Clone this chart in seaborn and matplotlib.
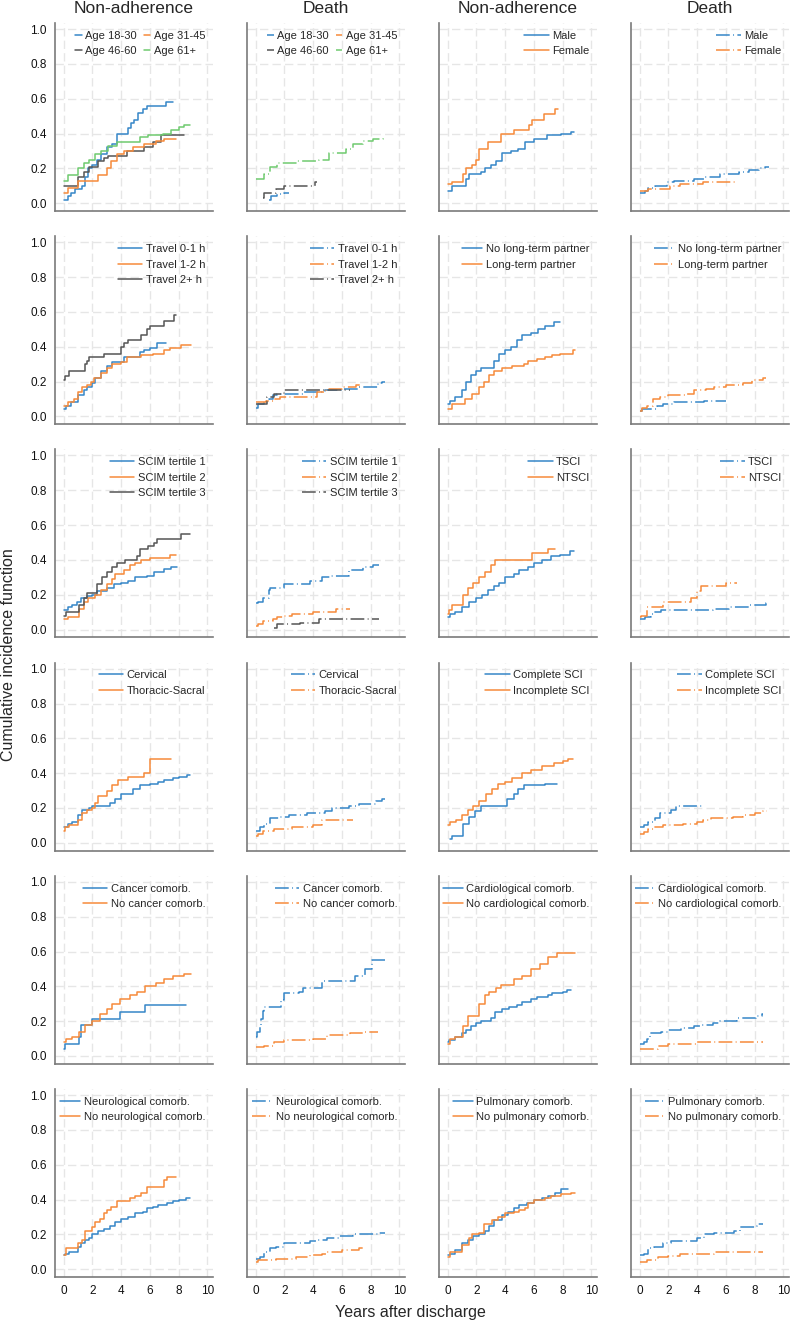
import matplotlib
matplotlib.use("Agg")
import matplotlib.pyplot as plt
import pandas as pd
import seaborn as sns

sns.set_style("white")
plt.rcParams["font.family"] = ["Liberation Sans", "DejaVu Sans"]

BLUE = "#3586c8"
ORANGE = "#f68a3a"
GRAY = "#555555"
GREEN = "#6fca6f"

# Cumulative incidence step functions: (years after discharge, CIF)
# Row 1: age / sex
na_age_1830 = [(0, .02), (.3, .04), (.5, .06), (.8, .08), (1.3, .10), (1.5, .15), (1.7, .20), (2.0, .22),
               (2.3, .25), (2.6, .28), (3.0, .32), (3.4, .34), (3.7, .40), (4.5, .43), (4.7, .46), (4.9, .48),
               (5.2, .52), (5.5, .54), (5.8, .56), (7.1, .58), (7.6, .58)]
na_age_3145 = [(0, .06), (.3, .09), (1.0, .13), (2.4, .16), (3.0, .20), (3.3, .24), (3.7, .28), (4.2, .30),
               (4.8, .32), (5.6, .34), (6.4, .36), (7.0, .37), (7.8, .37)]
na_age_4660 = [(0, .10), (1.0, .15), (1.4, .18), (1.8, .21), (2.4, .24), (2.8, .26), (3.1, .27), (4.4, .30),
               (5.6, .32), (6.2, .35), (6.8, .39), (8.4, .39)]
na_age_61 = [(0, .13), (.3, .16), (1.0, .20), (1.4, .23), (1.8, .25), (2.2, .28), (2.6, .30), (3.1, .33),
             (3.7, .35), (5.3, .38), (5.9, .39), (6.9, .40), (7.5, .42), (8.0, .44), (8.4, .45), (8.8, .45)]
d_age_1830 = [(.9, .02), (1.1, .04), (1.5, .05), (2.0, .06), (2.3, .06)]
d_age_4660 = [(.5, .03), (.6, .06), (1.4, .08), (2.0, .10), (4.1, .12), (4.3, .12)]
d_age_61 = [(0, .14), (.6, .17), (1.0, .21), (1.5, .23), (2.9, .24), (4.4, .25), (5.1, .29), (6.3, .31),
            (6.8, .34), (7.5, .36), (8.2, .37), (8.9, .38), (9.0, .38)]
na_sex_m = [(0, .07), (.3, .10), (1.3, .14), (1.5, .17), (2.3, .18), (2.6, .20), (3.0, .22), (3.4, .24),
            (3.8, .29), (4.4, .30), (4.9, .31), (5.4, .35), (6.0, .37), (6.9, .39), (7.9, .40), (8.6, .41),
            (8.8, .41)]
na_sex_f = [(0, .11), (.3, .12), (1.1, .17), (1.3, .20), (1.7, .22), (2.0, .25), (2.2, .31), (2.8, .35),
            (3.7, .40), (4.6, .42), (5.7, .45), (5.9, .48), (6.7, .51), (7.5, .54), (7.7, .54)]
d_sex_m = [(0, .06), (.4, .07), (.6, .09), (1.1, .10), (1.9, .12), (2.4, .13), (3.8, .14), (4.5, .15),
           (5.6, .17), (6.9, .18), (7.6, .19), (8.3, .20), (8.7, .21), (9.0, .21)]
d_sex_f = [(0, .07), (.6, .08), (2.1, .10), (2.8, .11), (4.4, .12), (6.8, .12)]

# Row 2: travel time / partner
na_trav_01 = [(0, .04), (.2, .06), (.5, .08), (1.0, .12), (1.4, .15), (1.6, .17), (2.0, .19), (2.2, .22),
              (2.6, .26), (3.0, .29), (3.4, .31), (4.2, .34), (5.3, .37), (5.6, .38), (6.0, .39), (6.5, .42),
              (7.1, .42)]
na_trav_12 = [(0, .06), (.3, .08), (.7, .10), (1.0, .14), (1.3, .17), (1.6, .18), (1.9, .20), (2.1, .22),
              (2.6, .25), (3.0, .28), (3.4, .30), (4.0, .31), (4.4, .34), (5.4, .35), (6.2, .36), (7.0, .38),
              (7.4, .39), (8.2, .41), (8.9, .41)]
na_trav_2p = [(0, .21), (.1, .23), (.4, .26), (1.5, .30), (1.6, .32), (1.8, .34), (2.8, .36), (4.0, .40),
              (4.2, .42), (4.5, .44), (5.4, .47), (5.8, .50), (6.0, .52), (7.0, .55), (7.7, .58), (7.8, .58)]
d_trav_01 = [(0, .05), (.2, .07), (.6, .09), (.9, .10), (1.2, .12), (1.5, .13), (3.3, .14), (4.8, .15),
             (6.0, .16), (7.1, .17), (8.5, .19), (8.8, .20), (9.0, .20)]
d_trav_12 = [(0, .08), (.7, .09), (1.3, .10), (1.7, .11), (4.3, .14), (4.9, .16), (6.0, .17), (7.0, .18),
             (7.5, .18)]
d_trav_2p = [(0, .07), (.8, .11), (1.3, .13), (2.0, .15), (6.6, .15)]
na_part_no = [(0, .07), (.2, .09), (.5, .11), (1.0, .15), (1.3, .20), (1.6, .24), (2.0, .26), (2.3, .28),
              (3.2, .32), (3.6, .36), (4.0, .38), (4.4, .40), (4.8, .44), (5.2, .47), (5.8, .48), (6.3, .50),
              (6.8, .52), (7.4, .54), (7.8, .54)]
na_part_yes = [(0, .04), (.3, .07), (1.2, .10), (1.7, .13), (2.2, .17), (2.5, .20), (2.9, .24), (3.2, .26),
               (3.8, .28), (4.5, .29), (5.3, .30), (5.6, .32), (6.2, .33), (6.8, .34), (7.3, .35), (7.8, .36),
               (8.7, .38), (8.9, .38)]
d_part_no = [(0, .03), (.2, .04), (1.2, .06), (1.6, .07), (2.4, .08), (4.5, .09), (6.0, .09)]
d_part_yes = [(0, .03), (.2, .05), (.5, .06), (.9, .10), (1.4, .11), (2.0, .12), (3.3, .13), (3.8, .15),
              (4.6, .16), (5.2, .17), (6.0, .18), (7.2, .19), (7.8, .21), (8.6, .22), (8.8, .22)]

# Row 3: SCIM / aetiology
na_scim_1 = [(0, .11), (.3, .13), (.6, .14), (.9, .16), (1.2, .18), (1.6, .19), (2.0, .20), (2.3, .22),
             (3.0, .24), (3.5, .26), (4.0, .27), (4.5, .28), (5.0, .30), (5.8, .31), (6.3, .33), (7.0, .35),
             (7.5, .36), (7.9, .36)]
na_scim_2 = [(0, .06), (.3, .07), (1.1, .12), (1.4, .16), (1.7, .18), (2.2, .20), (2.6, .23), (3.0, .26),
             (3.4, .29), (3.6, .32), (4.2, .34), (4.6, .37), (5.0, .38), (5.4, .40), (6.0, .41), (7.4, .43),
             (7.8, .43)]
na_scim_3 = [(0, .08), (.2, .10), (1.1, .14), (1.4, .18), (1.6, .21), (2.3, .26), (2.7, .30), (3.0, .33),
             (3.4, .36), (3.7, .38), (4.3, .40), (5.1, .42), (5.3, .46), (5.9, .48), (6.3, .50), (6.5, .52),
             (8.2, .55), (8.8, .55)]
d_scim_1 = [(0, .15), (.2, .16), (.5, .18), (.9, .23), (1.0, .24), (2.0, .26), (3.8, .28), (4.6, .30),
            (5.2, .31), (6.5, .34), (7.5, .36), (8.2, .37), (8.6, .37)]
d_scim_2 = [(0, .02), (.2, .03), (.5, .05), (1.2, .06), (1.5, .07), (1.9, .08), (2.5, .09), (4.0, .10),
            (5.6, .12), (6.6, .12)]
d_scim_3 = [(1.3, .01), (1.5, .03), (3.1, .04), (4.4, .06), (8.6, .06)]
na_tsci = [(0, .07), (.2, .09), (.5, .10), (1.0, .13), (1.5, .16), (2.0, .18), (2.4, .20), (2.8, .23),
           (3.2, .25), (3.6, .27), (4.0, .30), (4.6, .32), (5.0, .34), (5.6, .36), (6.0, .38), (6.6, .40),
           (7.2, .42), (7.8, .43), (8.5, .45), (8.8, .45)]
na_ntsci = [(0, .09), (.1, .11), (.3, .14), (1.1, .20), (1.4, .24), (1.8, .27), (2.2, .30), (2.6, .33),
            (3.0, .37), (3.3, .40), (5.9, .44), (7.0, .46), (7.5, .46)]
d_tsci = [(0, .06), (.4, .07), (.8, .09), (1.0, .10), (1.5, .11), (5.1, .12), (6.2, .13), (7.6, .14),
          (8.8, .15), (9.0, .15)]
d_ntsci = [(0, .07), (.1, .08), (.5, .13), (1.6, .16), (3.6, .18), (4.0, .22), (4.3, .25), (6.0, .27),
           (6.8, .27)]

# Row 4: lesion level / completeness
na_cerv = [(0, .09), (.3, .11), (.6, .12), (1.0, .16), (1.3, .19), (1.8, .20), (2.0, .21), (3.2, .23),
           (3.6, .25), (4.0, .28), (4.8, .31), (5.3, .33), (6.0, .34), (6.6, .35), (7.0, .36), (7.6, .37),
           (8.0, .38), (8.6, .39), (8.8, .39)]
na_thor = [(0, .07), (.1, .09), (.4, .10), (1.0, .13), (1.3, .17), (1.6, .19), (2.0, .20), (2.2, .23),
           (2.4, .27), (3.0, .30), (3.4, .33), (3.8, .36), (4.5, .38), (5.6, .40), (6.0, .48), (7.5, .48)]
d_cerv = [(0, .07), (.3, .09), (.6, .11), (1.0, .14), (1.6, .15), (2.3, .16), (3.6, .17), (4.8, .18),
          (5.3, .20), (6.5, .21), (7.2, .22), (8.4, .24), (8.8, .25), (9.0, .25)]
d_thor = [(0, .04), (.2, .05), (.5, .07), (1.3, .08), (2.5, .09), (4.0, .10), (4.6, .13), (6.8, .13)]
na_compl = [(.2, .02), (.3, .04), (1.1, .11), (1.5, .15), (1.9, .18), (2.3, .21), (4.1, .25), (4.6, .28),
            (4.9, .31), (5.3, .33), (6.8, .34), (7.6, .34)]
na_incompl = [(0, .10), (.2, .12), (.6, .13), (1.0, .16), (1.4, .19), (1.8, .21), (2.2, .24), (2.7, .28),
              (3.1, .31), (3.5, .34), (4.0, .35), (4.5, .37), (5.2, .40), (5.8, .42), (6.6, .44), (7.4, .46),
              (8.0, .47), (8.4, .48), (8.7, .48)]
d_compl = [(0, .09), (.3, .10), (.6, .12), (1.1, .14), (1.4, .17), (2.2, .19), (2.5, .21), (4.4, .21)]
d_incompl = [(0, .05), (.3, .06), (.6, .08), (1.0, .09), (1.6, .10), (3.0, .11), (4.0, .12), (4.4, .13),
             (5.0, .14), (6.5, .15), (7.2, .16), (8.0, .17), (8.6, .18), (8.9, .18)]

# Row 5: cancer / cardiological comorbidity
na_canc = [(0, .04), (.1, .07), (1.1, .11), (1.2, .18), (2.0, .21), (3.9, .25), (5.7, .29), (8.5, .29)]
na_nocanc = [(0, .08), (.2, .10), (.6, .11), (1.1, .14), (1.5, .18), (2.0, .20), (2.5, .24), (3.0, .27),
             (3.4, .30), (3.9, .33), (4.6, .35), (5.1, .37), (5.7, .40), (6.4, .42), (7.0, .44), (7.6, .46),
             (8.4, .47), (8.9, .47)]
d_canc = [(0, .11), (.1, .14), (.3, .18), (.4, .21), (.5, .26), (.6, .28), (1.8, .32), (2.0, .36), (3.0, .37),
          (3.3, .39), (4.6, .43), (6.9, .46), (7.6, .50), (8.1, .55), (9.0, .55)]
d_nocanc = [(0, .05), (.6, .06), (1.3, .08), (2.0, .09), (4.0, .10), (5.0, .12), (6.6, .13), (7.6, .14),
            (8.5, .14)]
na_card = [(0, .08), (.1, .09), (.5, .11), (1.0, .13), (1.3, .15), (1.6, .17), (2.0, .19), (2.3, .20),
           (3.0, .22), (3.3, .25), (3.8, .27), (4.3, .28), (4.8, .29), (5.2, .31), (5.8, .33), (6.2, .34),
           (7.0, .35), (7.3, .36), (8.0, .37), (8.3, .38), (8.6, .38)]
na_nocard = [(0, .07), (.2, .10), (.5, .11), (1.1, .17), (1.4, .23), (2.2, .30), (2.6, .35), (2.9, .37),
             (3.4, .39), (3.7, .41), (4.6, .44), (5.2, .46), (5.8, .50), (6.4, .53), (7.0, .57), (7.6, .59),
             (8.9, .59)]
d_card = [(0, .07), (.3, .08), (.5, .10), (.7, .13), (1.5, .14), (2.0, .15), (2.9, .16), (3.8, .17),
          (4.3, .18), (5.1, .19), (5.6, .20), (6.8, .22), (8.1, .23), (8.5, .24), (8.6, .24)]
d_nocard = [(0, .04), (1.3, .06), (2.0, .07), (4.0, .08), (8.6, .08)]

# Row 6: neurological / pulmonary comorbidity
na_neur = [(0, .08), (.1, .09), (.4, .10), (1.0, .13), (1.2, .15), (1.5, .17), (1.8, .18), (2.0, .20),
           (2.4, .22), (2.8, .23), (3.2, .25), (3.6, .27), (4.0, .29), (4.5, .30), (5.0, .32), (5.5, .33),
           (5.8, .35), (6.2, .36), (6.6, .37), (7.2, .38), (7.6, .39), (8.0, .40), (8.5, .41), (8.8, .41)]
na_noneur = [(0, .08), (.2, .12), (1.0, .15), (1.3, .17), (1.5, .22), (2.0, .24), (2.2, .27), (2.5, .29),
             (2.8, .32), (3.0, .34), (3.3, .36), (3.7, .39), (4.6, .41), (5.0, .42), (5.4, .44), (5.8, .47),
             (7.0, .51), (7.2, .53), (7.8, .53)]
d_neur = [(0, .06), (.3, .07), (.6, .10), (1.0, .12), (1.4, .13), (2.0, .15), (3.8, .16), (4.3, .17),
          (5.0, .18), (5.8, .19), (6.8, .20), (8.5, .21), (9.0, .21)]
d_noneur = [(0, .04), (.2, .05), (1.4, .06), (2.8, .07), (3.8, .08), (4.6, .09), (4.9, .10), (6.0, .11),
            (7.2, .12), (7.5, .12)]
na_pulm = [(0, .08), (.2, .09), (.5, .11), (1.0, .15), (1.4, .17), (1.8, .19), (2.2, .20), (2.6, .22),
           (2.9, .25), (3.2, .28), (3.8, .31), (4.2, .33), (4.6, .35), (5.0, .37), (5.5, .38), (6.0, .40),
           (6.6, .41), (7.0, .42), (7.5, .44), (7.9, .46), (8.4, .46)]
na_nopulm = [(0, .07), (.2, .10), (1.0, .14), (1.5, .18), (1.7, .20), (2.2, .21), (2.5, .26), (3.1, .28),
             (3.5, .30), (4.0, .32), (4.6, .33), (5.0, .34), (5.4, .35), (5.6, .38), (6.0, .40), (6.8, .41),
             (7.2, .42), (7.9, .43), (8.6, .44), (8.9, .44)]
d_pulm = [(0, .08), (.3, .09), (.6, .12), (1.0, .13), (1.6, .15), (2.2, .16), (4.0, .18), (4.5, .20),
          (5.2, .21), (6.6, .22), (7.0, .24), (8.0, .25), (8.2, .26), (8.6, .26)]
d_nopulm = [(0, .04), (.5, .05), (1.3, .07), (2.0, .075), (2.8, .09), (5.2, .10), (8.6, .10)]

panels = [
    [([("Age 18-30", na_age_1830, BLUE), ("Age 46-60", na_age_4660, GRAY),
       ("Age 31-45", na_age_3145, ORANGE), ("Age 61+", na_age_61, GREEN)], False, 2),
     ([("Age 18-30", d_age_1830, BLUE), ("Age 46-60", d_age_4660, GRAY),
       ("Age 31-45", [(0, None)], ORANGE), ("Age 61+", d_age_61, GREEN)], True, 2),
     ([("Male", na_sex_m, BLUE), ("Female", na_sex_f, ORANGE)], False, 1),
     ([("Male", d_sex_m, BLUE), ("Female", d_sex_f, ORANGE)], True, 1)],
    [([("Travel 0-1 h", na_trav_01, BLUE), ("Travel 1-2 h", na_trav_12, ORANGE),
       ("Travel 2+ h", na_trav_2p, GRAY)], False, 1),
     ([("Travel 0-1 h", d_trav_01, BLUE), ("Travel 1-2 h", d_trav_12, ORANGE),
       ("Travel 2+ h", d_trav_2p, GRAY)], True, 1),
     ([("No long-term partner", na_part_no, BLUE), ("Long-term partner", na_part_yes, ORANGE)], False, 1),
     ([("No long-term partner", d_part_no, BLUE), ("Long-term partner", d_part_yes, ORANGE)], True, 1)],
    [([("SCIM tertile 1", na_scim_1, BLUE), ("SCIM tertile 2", na_scim_2, ORANGE),
       ("SCIM tertile 3", na_scim_3, GRAY)], False, 1),
     ([("SCIM tertile 1", d_scim_1, BLUE), ("SCIM tertile 2", d_scim_2, ORANGE),
       ("SCIM tertile 3", d_scim_3, GRAY)], True, 1),
     ([("TSCI", na_tsci, BLUE), ("NTSCI", na_ntsci, ORANGE)], False, 1),
     ([("TSCI", d_tsci, BLUE), ("NTSCI", d_ntsci, ORANGE)], True, 1)],
    [([("Cervical", na_cerv, BLUE), ("Thoracic-Sacral", na_thor, ORANGE)], False, 1),
     ([("Cervical", d_cerv, BLUE), ("Thoracic-Sacral", d_thor, ORANGE)], True, 1),
     ([("Complete SCI", na_compl, BLUE), ("Incomplete SCI", na_incompl, ORANGE)], False, 1),
     ([("Complete SCI", d_compl, BLUE), ("Incomplete SCI", d_incompl, ORANGE)], True, 1)],
    [([("Cancer comorb.", na_canc, BLUE), ("No cancer comorb.", na_nocanc, ORANGE)], False, 1),
     ([("Cancer comorb.", d_canc, BLUE), ("No cancer comorb.", d_nocanc, ORANGE)], True, 1),
     ([("Cardiological comorb.", na_card, BLUE), ("No cardiological comorb.", na_nocard, ORANGE)], False, 1),
     ([("Cardiological comorb.", d_card, BLUE), ("No cardiological comorb.", d_nocard, ORANGE)], True, 1)],
    [([("Neurological comorb.", na_neur, BLUE), ("No neurological comorb.", na_noneur, ORANGE)], False, 1),
     ([("Neurological comorb.", d_neur, BLUE), ("No neurological comorb.", d_noneur, ORANGE)], True, 1),
     ([("Pulmonary comorb.", na_pulm, BLUE), ("No pulmonary comorb.", na_nopulm, ORANGE)], False, 1),
     ([("Pulmonary comorb.", d_pulm, BLUE), ("No pulmonary comorb.", d_nopulm, ORANGE)], True, 1)],
]
col_titles = ["Non-adherence", "Death", "Non-adherence", "Death"]

W, H = 790, 1323
fig = plt.figure(figsize=(W / 100, H / 100), dpi=100)
lefts = [55, 247, 439, 631]
ax_w, ax_h = 158, 188
row_step = 213.2
DASH = (0, (9, 2.2, 0.6, 2.2))
AXCOL = "#7a7a7a"

for r, row in enumerate(panels):
    for c, (series, death, ncol) in enumerate(row):
        top = 23 + r * row_step
        ax = fig.add_axes([lefts[c] / W, 1 - (top + ax_h) / H, ax_w / W, ax_h / H])
        frames = []
        for lab, pts, col in series:
            d = pd.DataFrame(pts, columns=["t", "cif"])
            d["group"] = lab
            frames.append(d)
        df = pd.concat(frames, ignore_index=True).dropna()
        labels = [s[0] for s in series]
        pal = {s[0]: s[2] for s in series}
        handles = []
        for lab in labels:
            sub = df[df["group"] == lab]
            n0 = len(ax.lines)
            if len(sub):
                sns.lineplot(data=sub, x="t", y="cif", color=pal[lab], estimator=None,
                             drawstyle="steps-post", linestyle=DASH if death else "-",
                             lw=1.1, legend=False, ax=ax)
            if len(ax.lines) > n0:
                handles.append(ax.lines[-1])
            else:
                handles.append(plt.Line2D([], [], color=pal[lab], lw=1.1,
                                          linestyle=DASH if death else "-"))
        ax.set_xlim(-0.6, 10.4)
        ax.set_ylim(-0.045, 1.035)
        ax.set_xticks(range(0, 11, 2))
        ax.set_yticks([0, .2, .4, .6, .8, 1.0])
        ax.set_yticklabels(["0.0", "0.2", "0.4", "0.6", "0.8", "1.0"])
        ax.grid(True, color="#e6e6e6", linestyle=(0, (6, 3)), lw=1.0)
        ax.set_axisbelow(True)
        for s in ["top", "right"]:
            ax.spines[s].set_visible(False)
        for s in ["left", "bottom"]:
            ax.spines[s].set_color(AXCOL)
            ax.spines[s].set_linewidth(1.2)
        ax.tick_params(direction="out", length=4, width=1, color=AXCOL, labelsize=8.5,
                       labelcolor="#111111", pad=2,
                       labelleft=(c == 0), labelbottom=(r == len(panels) - 1))
        ax.set_xlabel("")
        ax.set_ylabel("")
        longest = max(len(l) for l in labels)
        ax.legend(handles, labels, loc="upper right", frameon=False, fontsize=8, ncol=ncol,
                  handlelength=0.6 if ncol == 2 else (1.8 if longest > 18 else 2.2),
                  handletextpad=0.3, labelspacing=0.5,
                  borderaxespad=0.5, borderpad=0.2, columnspacing=0.6)
        if r == 0:
            fig.text((lefts[c] + ax_w / 2) / W, 1 - 1 / H, col_titles[c], ha="center", va="top",
                     fontsize=12.5)

fig.text(9 / W, 1 - 655 / H, "Cumulative incidence function", rotation=90, ha="center", va="center",
         fontsize=11.5)
fig.text(410 / W, 1 - 1313 / H, "Years after discharge", ha="center", va="center", fontsize=11.5)

fig.savefig("out.png", dpi=100)
